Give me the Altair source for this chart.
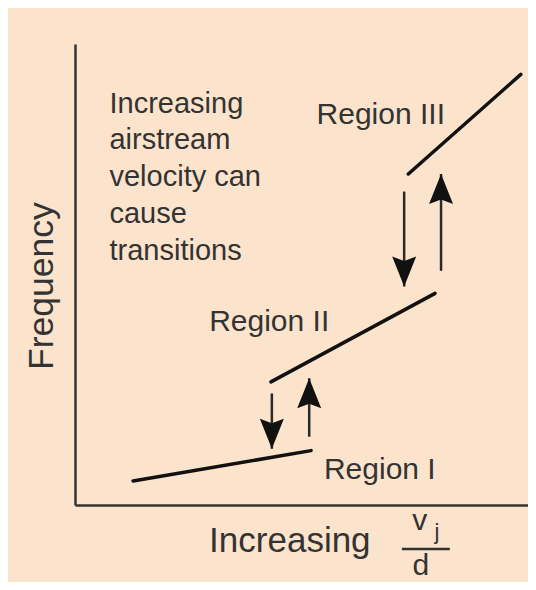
import altair as alt
import pandas as pd

# ---- data (arbitrary units: x = v_j/d, y = frequency) ----
region_names = ["Region I", "Region II", "Region III"]
seg_x1 = [12.6, 42.5, 72.3]
seg_y1 = [5.2, 26.7, 71.8]
seg_x2 = [51.2, 78.1, 96.7]
seg_y2 = [11.8, 45.9, 93.4]

label_x = [54.0, 29.1, 52.4]
label_y = [5.7, 37.7, 82.6]

arrow_x = [42.7, 50.8, 71.4, 79.4]
arrow_from = [24.2, 14.8, 68.0, 50.8]
arrow_to = [12.2, 27.5, 47.4, 71.8]
arrow_dir = ["down", "up", "down", "up"]

note_lines = ["Increasing", "airstream", "velocity can", "cause", "transitions"]
note_pos = [7.48, 85.1]

ylabel = "Frequency"
ylabel_pos = [-4.8, 47.5]
xlabel = "Increasing"
xlabel_pos = [46.6, -10.1]
frac_num = ["v", "j"]
frac_num_x = [74.8, 78.5]
frac_num_y = [-5.42, -7.27]
frac_den = "d"
frac_den_pos = [75.0, -15.29]
frac_bar = [70.9, 81.3, -9.54]

FONT = "Liberation Sans"
TXT = "#333333"
BG = "#fce3cc"

xs = alt.Scale(domain=[0, 98.26], nice=False, zero=False)
ys = alt.Scale(domain=[0, 100], nice=False, zero=False)


def X(f):
    return alt.X(f"{f}:Q", scale=xs, title=None)


def Y(f):
    return alt.Y(f"{f}:Q", scale=ys, title=None)


segs = pd.DataFrame({"region": region_names, "x1": seg_x1, "y1": seg_y1,
                     "x2": seg_x2, "y2": seg_y2})
labels = pd.DataFrame({"text": region_names, "x": label_x, "y": label_y})
arrows = pd.DataFrame({"x": arrow_x, "y1": arrow_from, "y2": arrow_to, "dir": arrow_dir})
note = pd.DataFrame({"text": ["\n".join(note_lines)], "x": [note_pos[0]], "y": [note_pos[1]]})

base_axes = alt.Chart(pd.DataFrame({"x": [0, 98.26], "y": [0, 100]})).mark_point(opacity=0).encode(
    x=X("x"), y=Y("y"))

lines = alt.Chart(segs).mark_rule(color="#111111", strokeWidth=3.5, strokeCap="round").encode(
    x=X("x1"), y=Y("y1"), x2="x2:Q", y2="y2:Q")

shafts = alt.Chart(arrows).mark_rule(color="#2a2a2a", strokeWidth=2.5).encode(
    x=X("x"), y=Y("y1"), y2="y2:Q")

down_path = "M0,0 L-0.8,-2 L0,-1.7 L0.8,-2 Z"
up_path = "M0,0 L-0.8,2 L0,1.7 L0.8,2 Z"
heads_down = alt.Chart(arrows).transform_filter(alt.datum.dir == "down").mark_point(
    shape=down_path, filled=True, size=900, color="#111111", opacity=1, strokeWidth=0).encode(
    x=X("x"), y=Y("y2"))
heads_up = alt.Chart(arrows).transform_filter(alt.datum.dir == "up").mark_point(
    shape=up_path, filled=True, size=900, color="#111111", opacity=1, strokeWidth=0).encode(
    x=X("x"), y=Y("y2"))

region_text = alt.Chart(labels).mark_text(
    font=FONT, fontSize=30, color=TXT, align="left", baseline="alphabetic").encode(
    x=X("x"), y=Y("y"), text="text:N")

note_text = alt.Chart(note).mark_text(
    font=FONT, fontSize=29, color=TXT, align="left", baseline="alphabetic",
    lineBreak="\n", lineHeight=36.8).encode(
    x=X("x"), y=Y("y"), text="text:N")

ytitle = alt.Chart(pd.DataFrame({"text": [ylabel], "x": [ylabel_pos[0]], "y": [ylabel_pos[1]]})).mark_text(
    font=FONT, fontSize=35.5, color=TXT, align="center", baseline="alphabetic", angle=270).encode(
    x=X("x"), y=Y("y"), text="text:N")

xtitle = alt.Chart(pd.DataFrame({"text": [xlabel], "x": [xlabel_pos[0]], "y": [xlabel_pos[1]]})).mark_text(
    font=FONT, fontSize=35, color=TXT, align="center", baseline="alphabetic").encode(
    x=X("x"), y=Y("y"), text="text:N")

num_v = alt.Chart(pd.DataFrame({"text": [frac_num[0]], "x": [frac_num_x[0]], "y": [frac_num_y[0]]})).mark_text(
    font=FONT, fontSize=30, color=TXT, align="center", baseline="alphabetic").encode(
    x=X("x"), y=Y("y"), text="text:N")
num_j = alt.Chart(pd.DataFrame({"text": [frac_num[1]], "x": [frac_num_x[1]], "y": [frac_num_y[1]]})).mark_text(
    font=FONT, fontSize=22, color=TXT, align="center", baseline="alphabetic").encode(
    x=X("x"), y=Y("y"), text="text:N")
den_d = alt.Chart(pd.DataFrame({"text": [frac_den], "x": [frac_den_pos[0]], "y": [frac_den_pos[1]]})).mark_text(
    font=FONT, fontSize=30, color=TXT, align="center", baseline="alphabetic").encode(
    x=X("x"), y=Y("y"), text="text:N")
bar = alt.Chart(pd.DataFrame({"x1": [frac_bar[0]], "x2": [frac_bar[1]], "y": [frac_bar[2]]})).mark_rule(
    color="#333333", strokeWidth=2.5).encode(x=X("x1"), x2="x2:Q", y=Y("y"))

chart = alt.layer(
    base_axes, lines, shafts, heads_down, heads_up, region_text, note_text,
    ytitle, xtitle, num_v, num_j, den_d, bar
).properties(
    width=453, height=461,
    background=BG,
    padding={"left": 67, "top": 36, "right": 0, "bottom": 77},
    autosize=alt.AutoSizeParams(type="none"),
).configure_view(stroke=None).configure_axis(
    domain=True, domainColor="#333333", domainWidth=2.5, ticks=False, labels=False, grid=False
)

chart.save("out.html", embed_options={"renderer": "svg", "actions": False})
